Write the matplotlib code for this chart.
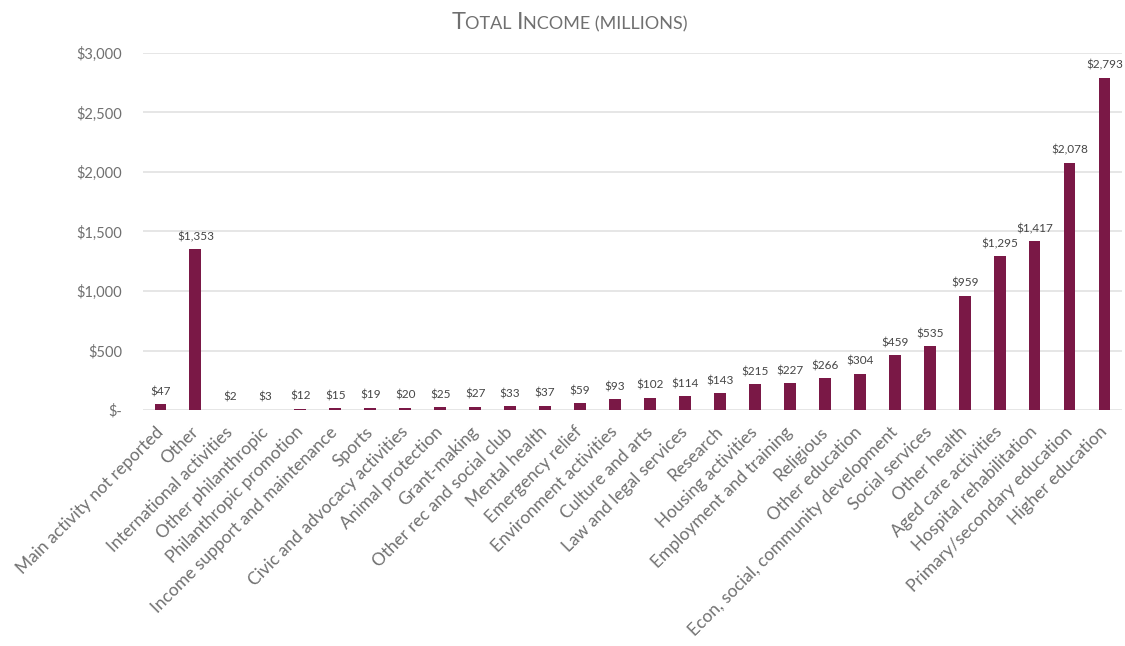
import matplotlib
matplotlib.use("Agg")
import matplotlib.pyplot as plt
from matplotlib.ticker import FuncFormatter, MultipleLocator

categories = [
    "Main activity not reported", "Other", "International activities",
    "Other philanthropic", "Philanthropic promotion",
    "Income support and maintenance", "Sports",
    "Civic and advocacy activities", "Animal protection", "Grant-making",
    "Other rec and social club", "Mental health", "Emergency relief",
    "Environment activities", "Culture and arts", "Law and legal services",
    "Research", "Housing activities", "Employment and training", "Religious",
    "Other education", "Econ, social, community development",
    "Social services", "Other health", "Aged care activities",
    "Hospital rehabilitation", "Primary/secondary education",
    "Higher education",
]
income_millions = [
    47, 1353, 2, 3, 12, 15, 19, 20, 25, 27, 33, 37, 59, 93, 102, 114, 143,
    215, 227, 266, 304, 459, 535, 959, 1295, 1417, 2078, 2793,
]

BAR = "#7a1846"
TEXT = "#707070"
LABEL = "#454545"
GRID = "#e2e2e2"
FONT = ["Lato", "DejaVu Sans"]

plt.rcParams["font.family"] = FONT

fig = plt.figure(figsize=(11.25, 6.46), dpi=100)
ax = fig.add_axes([0.1271, 0.3653, 0.8702, 0.5527])

x = list(range(len(categories)))
bars = ax.bar(x, income_millions, width=0.34, color=BAR, zorder=3)

ax.set_xlim(-0.5, len(categories) - 0.5)
ax.set_ylim(0, 3000)
ax.yaxis.set_major_locator(MultipleLocator(500))
ax.yaxis.set_major_formatter(
    FuncFormatter(lambda v, _: "$-" if v == 0 else f"${v:,.0f}"))
ax.grid(axis="y", color=GRID, linewidth=1.2, zorder=0)
ax.set_axisbelow(True)
for side in ("top", "right", "left", "bottom"):
    ax.spines[side].set_visible(False)

ax.tick_params(axis="y", length=0, pad=15, labelsize=10.5, labelcolor=TEXT)
ax.tick_params(axis="x", length=0, pad=14, labelsize=12.5, labelcolor=TEXT)
ax.set_xticks(x)
ax.set_xticklabels(categories, rotation=45, ha="right", va="center",
                   rotation_mode="anchor")

for rect, v in zip(bars, income_millions):
    ax.annotate(f"${v:,.0f}", (rect.get_x() + rect.get_width() / 2, v),
                xytext=(0, 5), textcoords="offset points",
                ha="center", va="bottom", fontsize=8.5, color=LABEL)

# Small-caps style title assembled from pieces of two sizes
pieces = [("T", 17), ("OTAL ", 13), ("I", 17), ("NCOME (MILLIONS)", 13)]
renderer = fig.canvas.get_renderer()
texts = []
for s, size in pieces:
    t = fig.text(0, 0.955, s, fontsize=size, color=TEXT,
                 transform=fig.transFigure, ha="left", va="baseline")
    texts.append(t)
widths = [t.get_window_extent(renderer).width for t in texts]
pos = 569.5 - sum(widths) / 2
for t, w in zip(texts, widths):
    t.set_x(pos / fig.bbox.width)
    pos += w

fig.savefig("out.png", dpi=100, facecolor="white")
